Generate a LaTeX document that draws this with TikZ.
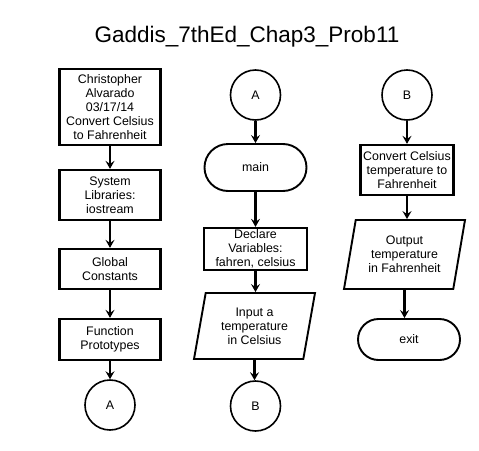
\documentclass[tikz,border=0pt]{standalone}
\usepackage{fontspec}
\setmainfont{Liberation Sans}
\usetikzlibrary{shapes.geometric,shapes.misc,arrows.meta}
\begin{document}
\begin{tikzpicture}[x=1pt,y=-1pt,
  every node/.style={font=\fontsize{12.4}{14}\selectfont, align=center, inner sep=0pt},
  procbox/.style={draw, rectangle, line width=2.3pt},
  conn/.style={draw, circle, line width=1.6pt, minimum size=50pt},
  term/.style={draw, rounded rectangle, line width=1.9pt},
  io/.style={draw, trapezium, trapezium left angle=72.3, trapezium right angle=107.7,
             trapezium stretches body, line width=1.9pt},
  flow/.style={line width=2.5pt, -{Stealth[length=8pt,width=9pt,inset=3pt]}}]
\useasboundingbox (0,0) rectangle (479,450);
\node[font=\fontsize{22.5}{26}\selectfont, anchor=base] (title) at (247,42) {Gaddis\_7thEd\_Chap3\_Prob11};
% left column
\node[procbox, minimum width=101pt, minimum height=76pt] (n1) at (110,107)
  {Christopher\\Alvarado\\03/17/14\\Convert Celsius\\to Fahrenheit};
\node[procbox, minimum width=101pt, minimum height=50pt] (n2) at (110,195)
  {System\\Libraries:\\iostream};
\node[procbox, minimum width=101pt, minimum height=40pt] (n3) at (110,269)
  {Global\\Constants};
\node[procbox, minimum width=101pt, minimum height=41pt] (n4) at (110,339.5)
  {Function\\Prototypes};
\node[conn] (a1) at (110,405) {A};
% middle column
\node[conn] (a2) at (255.5,95) {A};
\node[term, minimum width=102pt, minimum height=47pt] (main) at (255.5,167.5) {main};
\node[procbox, minimum width=103pt, minimum height=42pt] (decl) at (255.5,249)
  {Declare\\Variables:\\fahren, celsius};
\node[io, minimum width=121pt, minimum height=66pt] (inp) at (254.5,326)
  {Input a\\temperature\\in Celsius};
\node[conn] (b1) at (255.5,406) {B};
% right column
\node[conn] (b2) at (407,95) {B};
\node[procbox, minimum width=93pt, minimum height=50pt] (conv) at (407,170)
  {Convert Celsius\\temperature to\\Fahrenheit};
\node[io, minimum width=121pt, minimum height=69pt] (outp) at (404.5,254.5)
  {Output\\temperature\\in Fahrenheit};
\node[term, minimum width=102pt, minimum height=41pt] (exit) at (409,339.5) {exit};
% connectors
\draw[flow] (n1.south) -- (n1.south |- n2.north);
\draw[flow] (n2.south) -- (n2.south |- n3.north);
\draw[flow] (n3.south) -- (n3.south |- n4.north);
\draw[flow] (n4.south) -- (n4.south |- a1.north);
\draw[flow] (a2.south) -- (a2.south |- main.north);
\draw[flow] (main.south) -- (main.south |- decl.north);
\draw[flow] (decl.south) -- (decl.south |- inp.north);
\draw[flow] (inp.south) -- (inp.south |- b1.north);
\draw[flow] (b2.south) -- (b2.south |- conv.north);
\draw[flow] (conv.south) -- (conv.south |- outp.north);
\draw[flow] (outp.south) -- (outp.south |- exit.north);
\end{tikzpicture}
\end{document}
